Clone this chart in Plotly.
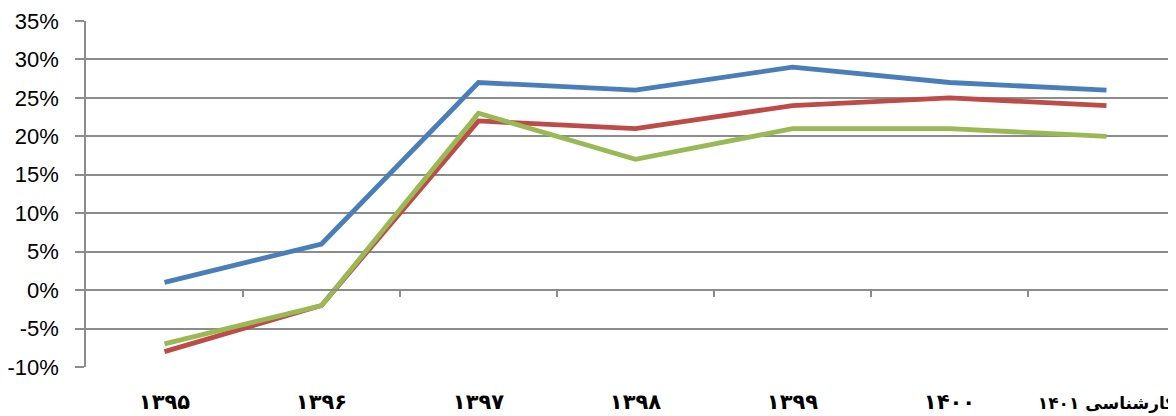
import plotly.graph_objects as go

categories = ["۱۳۹۵", "۱۳۹۶", "۱۳۹۷", "۱۳۹۸", "۱۳۹۹", "۱۴۰۰", "کارشناسی ۱۴۰۱"]
blue_vals = [1, 6, 27, 26, 29, 27, 26]
red_vals = [-8, -2, 22, 21, 24, 25, 24]
green_vals = [-7, -2, 23, 17, 21, 21, 20]
y_ticks = [-10, -5, 0, 5, 10, 15, 20, 25, 30, 35]
y_tick_labels = [f"{v}%" for v in y_ticks]

xs = list(range(len(categories)))
grid = "#8c8c8c"

# last (longest) label slightly smaller so it fits inside the page
x_tick_text = categories[:-1] + [f"<span style='font-size:17px'>{categories[-1]}</span>"]

fig = go.Figure()
for vals, col in [(blue_vals, "#4A7EBB"), (red_vals, "#BE4B48"), (green_vals, "#98B954")]:
    fig.add_trace(go.Scatter(x=xs, y=vals, mode="lines",
                             line=dict(color=col, width=4.8), showlegend=False,
                             hoverinfo="skip"))

# invisible trace for the zero-line axis
fig.add_trace(go.Scatter(x=[0], y=[0], xaxis="x2", mode="markers",
                         marker=dict(opacity=0), showlegend=False, hoverinfo="skip"))

n = len(categories)
x_range = [-0.5, -0.5 + 1090 / 157]
fig.update_layout(
    width=1168, height=408,
    margin=dict(l=78, r=0, t=13, b=49, autoexpand=False),
    paper_bgcolor="white", plot_bgcolor="white",
    xaxis=dict(range=x_range, tickvals=xs, ticktext=x_tick_text, automargin=False,
               showgrid=False, zeroline=False, showline=False, ticks="",
               ticklabelstandoff=20, ticklabeloverflow="allow",
               tickfont=dict(family="DejaVu Sans", size=21, color="black", weight="bold")),
    xaxis2=dict(range=x_range, overlaying="x", anchor="free", automargin=False,
                position=10 / 45, side="bottom",
                showline=True, linecolor=grid, linewidth=1.5,
                ticks="outside", ticklen=6, tickcolor=grid, tickwidth=1.5,
                tickvals=[i + 0.5 for i in range(n - 1)], showticklabels=False,
                showgrid=False, zeroline=False),
    yaxis=dict(range=[-10, 35], tickmode="array", tickvals=y_ticks, ticktext=y_tick_labels,
               automargin=False,
               showgrid=True, gridcolor=grid, gridwidth=1.5,
               zeroline=False, showline=True, linecolor=grid, linewidth=1.5,
               ticks="outside", ticklen=9, tickcolor=grid, tickwidth=1.5,
               ticklabelstandoff=12,
               tickfont=dict(family="Liberation Sans", size=22, color="black")),
)

fig.write_html("out.html")
